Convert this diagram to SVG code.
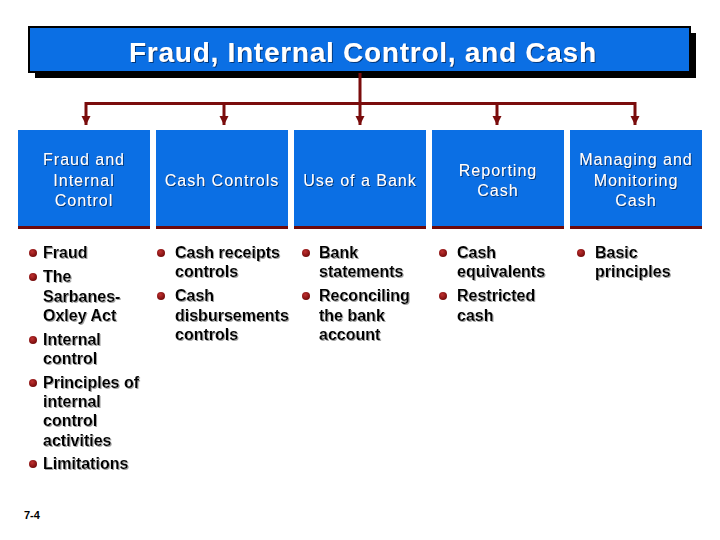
<svg xmlns="http://www.w3.org/2000/svg" width="720" height="540" viewBox="0 0 720 540">
<defs>
<marker id="ah" markerWidth="4" markerHeight="4" refX="3" refY="1.5" orient="auto" markerUnits="strokeWidth">
<path d="M0,0 L3,1.5 L0,3 Z" fill="#7a0c0c"/>
</marker>
<radialGradient id="bg" cx="0.4" cy="0.35" r="0.7">
<stop offset="0" stop-color="#c03030"/>
<stop offset="1" stop-color="#6e0808"/>
</radialGradient>
<filter id="ws" x="-5%" y="-20%" width="110%" height="140%">
<feDropShadow dx="1" dy="1" stdDeviation="0.3" flood-color="#003070" flood-opacity="0.9"/>
</filter>
<filter id="bs" x="-5%" y="-20%" width="110%" height="140%">
<feDropShadow dx="1" dy="1" stdDeviation="0.3" flood-color="#999999" flood-opacity="0.9"/>
</filter>
</defs>
<style>
.hdr{fill:#0b6fe4}
.bar{fill:#6e0a0a}
.ht{font-family:"Liberation Sans",Arial,sans-serif;font-size:16px;fill:#ffffff;text-anchor:middle;letter-spacing:1px}
.bt{font-family:"Liberation Sans",Arial,sans-serif;font-size:16px;font-weight:bold;fill:#000000}
.bul{fill:url(#bg)}
.con{stroke:#7a0c0c;stroke-width:3;fill:none}
</style>
<rect width="720" height="540" fill="#ffffff"/>
<g id="title">
<rect x="35" y="33" width="661" height="45" fill="#000000"/>
<rect x="29" y="27" width="661" height="45" fill="#0b6fe4" stroke="#000000" stroke-width="2"/>
<text x="129" y="62" font-family="'Liberation Sans',Arial,sans-serif" font-size="28" font-weight="bold" fill="#ffffff" textLength="467" lengthAdjust="spacing" filter="url(#ws)">Fraud, Internal Control, and Cash</text>
</g>
<g id="connectors">
<path class="con" d="M360,73 V103.5 M86,103.5 H635"/>
<path class="con" d="M86,102 V125" marker-end="url(#ah)"/>
<path class="con" d="M224,102 V125" marker-end="url(#ah)"/>
<path class="con" d="M360,102 V125" marker-end="url(#ah)"/>
<path class="con" d="M497,102 V125" marker-end="url(#ah)"/>
<path class="con" d="M635,102 V125" marker-end="url(#ah)"/>
</g>
<g id="node1">
<rect class="hdr" x="18" y="130" width="132" height="97"/>
<rect class="bar" x="18" y="226" width="132" height="3"/>
<g filter="url(#ws)">
<text class="ht" x="84" y="165">Fraud and</text>
<text class="ht" x="84" y="186">Internal</text>
<text class="ht" x="84" y="206">Control</text>
</g>
<circle class="bul" cx="33" cy="253" r="4"/>
<circle class="bul" cx="33" cy="277" r="4"/>
<circle class="bul" cx="33" cy="340" r="4"/>
<circle class="bul" cx="33" cy="383" r="4"/>
<circle class="bul" cx="33" cy="464" r="4"/>
<g filter="url(#bs)">
<text class="bt" x="43" y="258">Fraud</text>
<text class="bt" x="43" y="282">The</text>
<text class="bt" x="43" y="301.5">Sarbanes-</text>
<text class="bt" x="43" y="321">Oxley Act</text>
<text class="bt" x="43" y="344.5">Internal</text>
<text class="bt" x="43" y="364">control</text>
<text class="bt" x="43" y="388">Principles of</text>
<text class="bt" x="43" y="407">internal</text>
<text class="bt" x="43" y="426">control</text>
<text class="bt" x="43" y="445.5">activities</text>
<text class="bt" x="43" y="469">Limitations</text>
</g>
</g>
<g id="node2">
<rect class="hdr" x="156" y="130" width="132" height="97"/>
<rect class="bar" x="156" y="226" width="132" height="3"/>
<text class="ht" x="222" y="186" filter="url(#ws)">Cash Controls</text>
<circle class="bul" cx="161" cy="253" r="4"/>
<circle class="bul" cx="161" cy="296" r="4"/>
<g filter="url(#bs)">
<text class="bt" x="175" y="258">Cash receipts</text>
<text class="bt" x="175" y="277">controls</text>
<text class="bt" x="175" y="301">Cash</text>
<text class="bt" x="175" y="320.5">disbursements</text>
<text class="bt" x="175" y="340">controls</text>
</g>
</g>
<g id="node3">
<rect class="hdr" x="294" y="130" width="132" height="97"/>
<rect class="bar" x="294" y="226" width="132" height="3"/>
<text class="ht" x="360" y="186" filter="url(#ws)">Use of a Bank</text>
<circle class="bul" cx="306" cy="253" r="4"/>
<circle class="bul" cx="306" cy="296" r="4"/>
<g filter="url(#bs)">
<text class="bt" x="319" y="258">Bank</text>
<text class="bt" x="319" y="277">statements</text>
<text class="bt" x="319" y="301">Reconciling</text>
<text class="bt" x="319" y="320.5">the bank</text>
<text class="bt" x="319" y="340">account</text>
</g>
</g>
<g id="node4">
<rect class="hdr" x="432" y="130" width="132" height="97"/>
<rect class="bar" x="432" y="226" width="132" height="3"/>
<g filter="url(#ws)">
<text class="ht" x="498" y="175.5">Reporting</text>
<text class="ht" x="498" y="196">Cash</text>
</g>
<circle class="bul" cx="443" cy="253" r="4"/>
<circle class="bul" cx="443" cy="296" r="4"/>
<g filter="url(#bs)">
<text class="bt" x="457" y="258">Cash</text>
<text class="bt" x="457" y="277">equivalents</text>
<text class="bt" x="457" y="301">Restricted</text>
<text class="bt" x="457" y="320.5">cash</text>
</g>
</g>
<g id="node5">
<rect class="hdr" x="570" y="130" width="132" height="97"/>
<rect class="bar" x="570" y="226" width="132" height="3"/>
<g filter="url(#ws)">
<text class="ht" x="636" y="165">Managing and</text>
<text class="ht" x="636" y="186">Monitoring</text>
<text class="ht" x="636" y="206">Cash</text>
</g>
<circle class="bul" cx="581" cy="253" r="4"/>
<g filter="url(#bs)">
<text class="bt" x="595" y="258">Basic</text>
<text class="bt" x="595" y="277">principles</text>
</g>
</g>
<text x="24" y="519" font-family="'Liberation Sans',Arial,sans-serif" font-size="11" font-weight="bold" fill="#000000">7-4</text>
</svg>
